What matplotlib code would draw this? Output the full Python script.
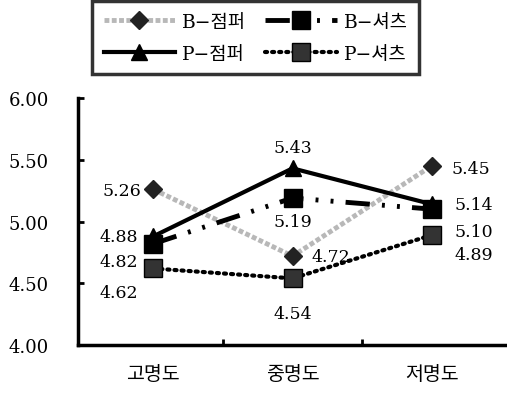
import matplotlib.pyplot as plt

plt.rcParams['font.family'] = ['DejaVu Serif', 'Noto Sans CJK KR']
plt.rcParams['axes.unicode_minus'] = False

# data
categories = ['고명도', '중명도', '저명도']
b_jumper = [5.26, 4.72, 5.45]
b_shirt = [4.82, 5.19, 5.10]
p_jumper = [4.88, 5.43, 5.14]
p_shirt = [4.62, 4.54, 4.89]
yticks = [4.00, 4.50, 5.00, 5.50, 6.00]

fig = plt.figure(figsize=(5.07, 4.02), dpi=100)
ax = fig.add_axes([0.154, 0.139, 0.846, 0.615])
x = range(len(categories))

l1, = ax.plot(x, b_jumper, color='#b8b8b8', lw=3.5, ls=(0, (1, 0.5)), marker='D',
              ms=9, mfc='#222222', mec='#222222', label='B−점퍼', zorder=2)
l2, = ax.plot(x, b_shirt, color='black', lw=3.5, ls=(0, (5, 2.5, 0.6, 2.5, 0.6, 2.5)),
              marker='s', ms=13, mfc='black', mec='black', label='B−셔츠', zorder=3)
l3, = ax.plot(x, p_jumper, color='black', lw=3, ls='-', marker='^',
              ms=12, mfc='black', mec='black', label='P−점퍼', zorder=4)
l4, = ax.plot(x, p_shirt, color='black', lw=3, ls=(0, (0.5, 1.2)), marker='s',
              ms=13, mfc='#333333', mec='black', label='P−셔츠', zorder=3,
              dash_capstyle='round')

# data labels (offsets in points)
def lab(xi, v, dx, dy, ha='center'):
    ax.annotate(f'{v:.2f}', (xi, v), xytext=(dx, dy), textcoords='offset points',
                ha=ha, va='center', fontsize=12.5)

lab(0, b_jumper[0], -9, -1, 'right')
lab(0, p_jumper[0], -11, 0, 'right')
lab(0, b_shirt[0], -11, -13, 'right')
lab(0, p_shirt[0], -11, -17, 'right')
lab(1, p_jumper[1], 0, 15)
lab(1, b_shirt[1], 0, -17)
lab(1, b_jumper[1], 14, 0, 'left')
lab(1, p_shirt[1], 0, -25)
lab(2, b_jumper[2], 14, -2, 'left')
lab(2, p_jumper[2], 16, 0, 'left')
lab(2, b_shirt[2], 16, -16, 'left')
lab(2, p_shirt[2], 16, -14, 'left')

ax.set_xlim(-0.54, 2.54)
ax.set_ylim(4.0, 6.0)
ax.set_yticks(yticks)
ax.set_yticklabels([f'{t:.2f}' for t in yticks], fontsize=13)
ax.set_xticks([0.5, 1.5])
ax.set_xticklabels([])
ax.set_xticks(list(x), minor=True)
ax.set_xticklabels(categories, minor=True, fontsize=14)
ax.tick_params(axis='x', which='minor', length=0, pad=14)
ax.tick_params(axis='both', which='major', direction='in', length=4, width=2)
ax.tick_params(axis='y', pad=21)

for s in ['top', 'right']:
    ax.spines[s].set_visible(False)
for s in ['left', 'bottom']:
    ax.spines[s].set_linewidth(2.5)

leg = fig.legend(handles=[l1, l3, l2, l4],
                 loc='upper left', bbox_to_anchor=(0.182, 0.822, 0.645, 0.172),
                 mode='expand', ncol=2, fontsize=13.5, handlelength=3.8,
                 frameon=True, fancybox=False, borderaxespad=0, borderpad=0.6,
                 columnspacing=1.5, labelspacing=0.75, handletextpad=0.4)
leg.get_frame().set_edgecolor('black')
leg.get_frame().set_linewidth(2.5)

fig.savefig('out.png', dpi=100)
